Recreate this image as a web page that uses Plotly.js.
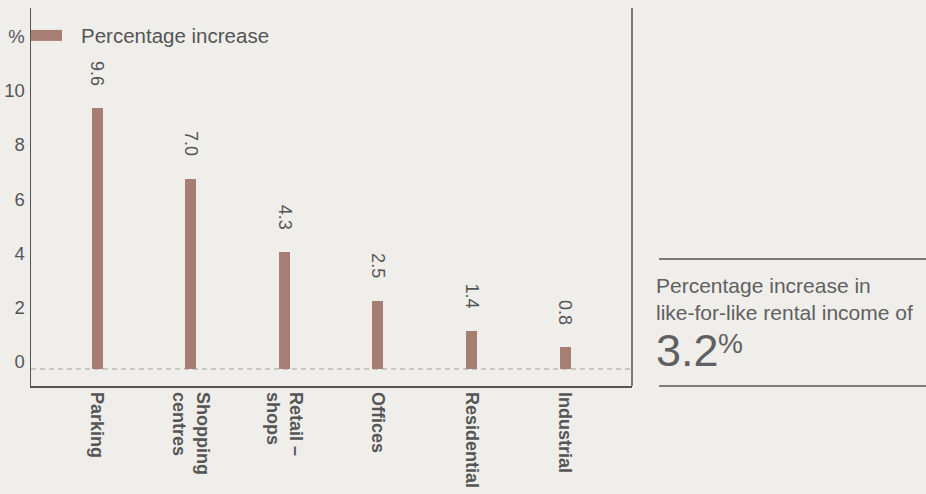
<!DOCTYPE html>
<html>
<head>
<meta charset="utf-8">
<script src="https://cdn.plot.ly/plotly-3.0.1.min.js"></script>
<style>
  html, body { margin: 0; padding: 0; background: #f0eeeb; }
  #chart { width: 926px; height: 494px; }
</style>
</head>
<body>
<div id="chart"></div>
<script>
// ---- data ----
const categories = ["Parking", "Shopping<br>centres", "Retail –<br>shops", "Offices", "Residential", "Industrial"];
const values = [9.6, 7.0, 4.3, 2.5, 1.4, 0.8];
const valueLabels = ["9.6", "7.0", "4.3", "2.5", "1.4", "0.8"];
const yTickVals = [0, 2, 4, 6, 8, 10, 12];
const yTickText = ["0", "2", "4", "6", "8", "10", "%"];
const seriesName = "Percentage increase";
const sideText = "Percentage increase in<br>like-for-like rental income of";
const sideValue = "3.2";
const sideUnit = "%";

const FONT = "'Liberation Sans', Arial, Helvetica, sans-serif";
const TXT = "#555555";
const BAR = "#a67e73";

const trace = {
  type: "bar",
  x: categories,
  y: values,
  name: seriesName,
  marker: { color: BAR },
  width: 0.118,
  hoverinfo: "none",
  showlegend: false
};

const valueAnnotations = categories.map((c, i) => ({
  x: c, y: values[i], xref: "x", yref: "y",
  text: valueLabels[i], showarrow: false, textangle: 90,
  xanchor: "center", yanchor: "middle", yshift: 35,
  font: { family: FONT, size: 18, color: TXT }
}));

const layout = {
  width: 926, height: 494,
  margin: { l: 31, r: 294, t: 8, b: 108 },
  paper_bgcolor: "#f0eeeb",
  plot_bgcolor: "#f0eeeb",
  bargap: 0,
  showlegend: false,
  xaxis: {
    type: "category",
    range: [-0.707, 5.714],
    showline: true, linecolor: "#555555", linewidth: 1.5,
    showgrid: false, zeroline: false, ticks: "",
    tickangle: 90,
    ticklabelstandoff: 1,
    tickfont: { family: FONT, size: 18, color: TXT, weight: "bold" },
    fixedrange: true
  },
  yaxis: {
    range: [-0.626, 13.29],
    showline: true, linecolor: "#555555", linewidth: 1.5,
    showgrid: false, zeroline: false, ticks: "",
    tickvals: yTickVals, ticktext: yTickText,
    ticklabelshift: -7,
    ticklabelstandoff: 1,
    tickfont: { family: FONT, size: 18.5, color: TXT },
    fixedrange: true
  },
  shapes: [
    { type: "line", xref: "paper", yref: "paper", x0: 1, x1: 1, y0: 0, y1: 1,
      line: { color: "#555555", width: 1.5 } },
    { type: "line", xref: "paper", yref: "y", x0: 0, x1: 1, y0: 0, y1: 0,
      line: { color: "#9e9e9e", width: 1, dash: "5px,4px" }, layer: "below" },
    { type: "rect", xref: "paper", yref: "paper", x0: 0, x1: 0.0516, y0: 0.913, y1: 0.942,
      fillcolor: BAR, line: { width: 0 } },
    { type: "line", xref: "paper", yref: "paper", x0: 1.045, x1: 1.49, y0: 0.336, y1: 0.336,
      line: { color: "#555555", width: 1.5 } },
    { type: "line", xref: "paper", yref: "paper", x0: 1.045, x1: 1.49, y0: 0.0, y1: 0.0,
      line: { color: "#555555", width: 1.5 } }
  ],
  annotations: valueAnnotations.concat([
    { xref: "paper", yref: "paper", x: 0.0799, y: 0.926, xanchor: "left", yanchor: "middle",
      text: seriesName, showarrow: false,
      font: { family: FONT, size: 20.5, color: TXT } },
    { xref: "paper", yref: "paper", x: 1.036, y: 0.230, xanchor: "left", yanchor: "middle",
      text: sideText, showarrow: false, align: "left",
      font: { family: FONT, size: 21, color: "#606060" } },
    { xref: "paper", yref: "paper", x: 1.036, y: 0.093, xanchor: "left", yanchor: "middle",
      text: sideValue, showarrow: false,
      font: { family: FONT, size: 45, color: "#606060" } },
    { xref: "paper", yref: "paper", x: 1.139, y: 0.112, xanchor: "left", yanchor: "middle",
      text: sideUnit, showarrow: false,
      font: { family: FONT, size: 28, color: "#606060" } }
  ])
};

Plotly.newPlot("chart", [trace], layout, { displayModeBar: false, staticPlot: true });
</script>
</body>
</html>
